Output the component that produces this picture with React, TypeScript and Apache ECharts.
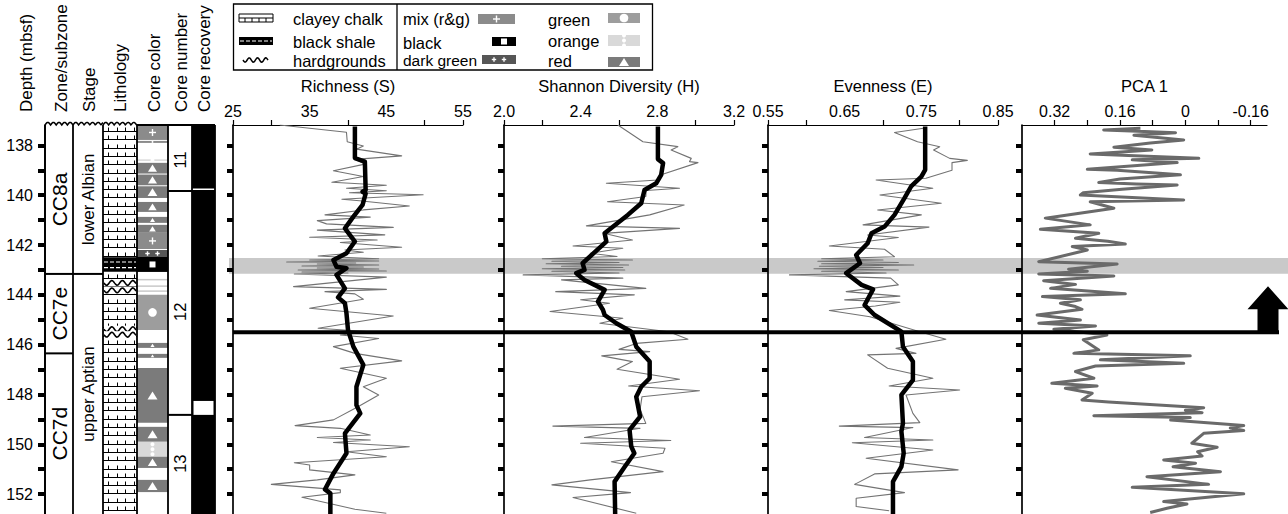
import React, { useEffect, useRef } from "react";
import * as echarts from "echarts";

const FONT = "'Liberation Sans', Arial, Helvetica, sans-serif";

// ---------- depth axis ----------
const DEPTH_TOP = 137.18;
const DEPTH_BOTTOM = 152.8;
const DEPTH_TICKS = [138, 139, 140, 141, 142, 143, 144, 145, 146, 147, 148, 149, 150, 151, 152];
const DEPTH_LABELS = [138, 140, 142, 144, 146, 148, 150, 152];

// ---------- panel axes ----------
const RICH_RANGE = [25, 55];
const RICH_TICKS = [25, 30, 40, 50, 55];
const RICH_LABELS = [25, 35, 45, 55];
const SHAN_RANGE = [2.0, 3.2];
const SHAN_TICKS = [2.0, 2.2, 2.6, 3.0, 3.2];
const SHAN_LABELS = [2.0, 2.4, 2.8, 3.2];
const EVEN_RANGE = [0.55, 0.85];
const EVEN_TICKS = [0.55, 0.6, 0.7, 0.8, 0.85];
const EVEN_LABELS = [0.55, 0.65, 0.75, 0.85];
const PCA_RANGE = [-0.2, 0.4];
const PCA_TICKS = [0.32, 0.24, 0.16, 0.08, 0, -0.08, -0.16];
const PCA_LABELS = [0.32, 0.16, 0, -0.16];

// ---------- data: [depth (mbsf), value] ----------
const RICHNESS_RAW = [
  [137.18, 31.1], [137.47, 39.8], [137.85, 39.9], [138.02, 42.0], [138.15, 41.1], [138.42, 47.0], [138.56, 40.9],
  [138.75, 42.2], [139.02, 38.1], [139.25, 42.0], [139.48, 37.9], [139.6, 45.0], [139.72, 39.8], [139.82, 45.0],
  [139.9, 40.2], [139.98, 49.8], [140.16, 39.2], [140.22, 41.5], [140.43, 48.0], [140.59, 42.0], [140.79, 37.0],
  [140.88, 42.9], [141.02, 36.0], [141.15, 37.2], [141.29, 45.9], [141.4, 36.0], [141.59, 44.8], [141.69, 35.0],
  [141.8, 43.8], [141.9, 39.0], [142.09, 47.0], [142.2, 39.6], [142.29, 42.0], [142.44, 36.1], [142.5, 40.0],
  [142.55, 44.0], [142.6, 35.0], [142.64, 44.0], [142.68, 32.0], [142.72, 41.0], [142.76, 36.0], [142.8, 44.0],
  [142.84, 34.0], [142.88, 42.0], [142.92, 36.0], [142.96, 44.0], [143.0, 33.5], [143.04, 45.0], [143.08, 34.0],
  [143.12, 40.0], [143.16, 33.0], [143.29, 45.0], [143.67, 32.9], [143.78, 45.0], [143.87, 37.0], [143.96, 40.9],
  [144.18, 42.0], [144.54, 35.0], [144.85, 45.9], [145.34, 36.1], [145.48, 42.9], [145.61, 39.0], [145.75, 44.0],
  [146.08, 38.1], [146.35, 40.9], [146.65, 47.0], [146.95, 39.0], [147.35, 45.0], [147.69, 42.0], [148.02, 44.0],
  [148.49, 41.3], [149.02, 38.1], [149.25, 33.1], [149.36, 39.0], [149.63, 42.9], [149.73, 36.0], [149.83, 42.9],
  [149.93, 38.1], [150.1, 48.0], [150.3, 39.8], [150.5, 45.0], [150.74, 33.0], [150.83, 35.0], [151.03, 35.0],
  [151.23, 40.9], [151.43, 36.0], [151.61, 30.0], [151.83, 39.0], [151.94, 39.0], [152.13, 34.0], [152.61, 40.9],
  [152.77, 45.0],
];
const RICHNESS_SMOOTH = [
  [137.24, 40.9], [138.51, 40.9], [138.65, 42.2], [139.79, 42.3], [139.86, 41.9], [139.94, 42.3], [140.39, 41.9],
  [140.86, 40.7], [141.33, 39.6], [141.86, 40.9], [142.33, 39.8], [142.6, 38.1], [142.87, 38.5], [142.93, 39.8],
  [143.2, 38.5], [143.74, 39.6], [144.1, 38.7], [144.34, 39.6], [144.74, 39.8], [145.41, 40.0], [146.08, 40.7],
  [146.81, 42.0], [147.69, 41.1], [148.43, 41.1], [148.76, 41.6], [149.56, 39.6], [150.36, 39.8], [151.17, 38.1],
  [151.81, 37.0], [151.97, 37.7], [152.8, 37.7],
];
const SHANNON_RAW = [
  [137.18, 2.594], [137.85, 2.725], [138.05, 2.907], [138.18, 2.872], [138.52, 2.977], [138.65, 2.968], [138.69, 3.012],
  [139.18, 2.82], [139.39, 2.803], [139.52, 2.534], [139.72, 2.916], [139.81, 2.742], [140.05, 2.74], [140.26, 2.54],
  [140.39, 2.94], [140.79, 2.76], [141.23, 2.43], [141.33, 2.916], [141.53, 2.52], [141.8, 2.67], [142.04, 2.36],
  [142.13, 2.62], [142.33, 2.45], [142.46, 2.59], [142.55, 2.2], [142.6, 2.67], [142.65, 2.25], [142.7, 2.6],
  [142.75, 2.22], [142.8, 2.65], [142.85, 2.3], [142.9, 2.62], [142.95, 2.2], [143.0, 2.63], [143.05, 2.25],
  [143.12, 2.6], [143.2, 2.1], [143.33, 2.62], [143.4, 2.3], [143.74, 2.74], [143.87, 2.27], [144.0, 2.68],
  [144.2, 2.4], [144.34, 2.55], [144.67, 2.24], [144.94, 2.62], [145.14, 2.5], [145.48, 2.86], [145.78, 2.96],
  [145.95, 2.69], [146.19, 2.6], [146.28, 2.76], [146.45, 2.51], [146.68, 2.67], [146.99, 2.59], [147.39, 2.916],
  [147.66, 2.65], [147.85, 3.02], [148.09, 2.72], [148.6, 2.71], [149.16, 2.74], [149.27, 2.255], [149.36, 2.71],
  [149.73, 2.42], [149.85, 2.87], [149.96, 2.4], [150.16, 2.84], [150.36, 2.83], [150.7, 2.56], [151.1, 2.83],
  [151.43, 2.45], [151.63, 2.25], [151.94, 2.66], [152.14, 2.36], [152.77, 2.69],
];
const SHANNON_SMOOTH = [
  [137.24, 2.803], [138.55, 2.803], [138.71, 2.83], [139.18, 2.82], [139.52, 2.794], [139.79, 2.733], [140.32, 2.716],
  [140.79, 2.646], [141.53, 2.525], [141.86, 2.534], [142.73, 2.41], [143.0, 2.42], [143.13, 2.377], [143.4, 2.42],
  [143.8, 2.525], [144.27, 2.49], [144.6, 2.516], [144.81, 2.525], [145.14, 2.586], [145.48, 2.664], [146.08, 2.69],
  [146.68, 2.76], [147.35, 2.76], [147.69, 2.716], [148.09, 2.69], [148.89, 2.71], [149.42, 2.655], [150.09, 2.664],
  [150.36, 2.68], [150.9, 2.63], [151.5, 2.577], [152.8, 2.58],
];
const EVENNESS_RAW = [
  [137.3, 0.755], [137.48, 0.715], [137.85, 0.745], [138.05, 0.774], [138.18, 0.766], [138.52, 0.787], [138.6, 0.81],
  [138.69, 0.79], [139.0, 0.79], [139.32, 0.756], [139.39, 0.691], [139.72, 0.765], [139.99, 0.696], [140.32, 0.776],
  [140.59, 0.693], [140.79, 0.75], [141.19, 0.674], [141.28, 0.76], [141.6, 0.68], [141.7, 0.72], [142.04, 0.63],
  [142.17, 0.702], [142.47, 0.715], [142.55, 0.62], [142.6, 0.7], [142.65, 0.615], [142.7, 0.72], [142.75, 0.62],
  [142.8, 0.74], [142.85, 0.617], [142.9, 0.7], [142.95, 0.61], [143.0, 0.72], [143.05, 0.62], [143.12, 0.704],
  [143.2, 0.578], [143.33, 0.71], [143.6, 0.72], [143.87, 0.652], [144.05, 0.722], [144.2, 0.65], [144.3, 0.722],
  [144.45, 0.69], [144.63, 0.63], [144.88, 0.683], [145.48, 0.748], [145.78, 0.782], [146.15, 0.717], [146.35, 0.743],
  [146.41, 0.68], [146.95, 0.706], [147.35, 0.765], [147.66, 0.708], [147.82, 0.8], [148.02, 0.73], [148.76, 0.739],
  [149.13, 0.748], [149.27, 0.643], [149.33, 0.739], [149.73, 0.676], [149.83, 0.765], [149.94, 0.66], [150.23, 0.765],
  [150.56, 0.678], [151.03, 0.798], [151.19, 0.689], [151.61, 0.663], [151.94, 0.728], [152.17, 0.665], [152.5, 0.665],
  [152.67, 0.708],
];
const EVENNESS_SMOOTH = [
  [137.24, 0.755], [138.98, 0.755], [139.25, 0.75], [139.63, 0.737], [140.12, 0.728], [140.79, 0.715], [141.26, 0.702],
  [141.53, 0.685], [141.93, 0.68], [142.4, 0.665], [142.73, 0.67], [143.13, 0.652], [143.6, 0.672], [143.78, 0.687],
  [144.41, 0.676], [144.81, 0.689], [145.48, 0.724], [146.08, 0.726], [146.68, 0.739], [147.42, 0.739], [148.02, 0.724],
  [149.16, 0.726], [149.49, 0.724], [150.36, 0.727], [150.9, 0.724], [151.5, 0.713], [152.8, 0.713],
];
const PCA1 = [
  [137.31, 0.11], [137.38, 0.2], [137.44, 0.1], [137.49, 0.024], [137.59, 0.126], [137.78, 0.004], [137.9, 0.086],
  [138.07, 0.175], [138.18, 0.082], [138.34, 0.233], [138.52, -0.033], [138.58, 0.13], [138.69, 0.02], [138.96, 0.24],
  [139.0, 0.167], [139.18, 0.012], [139.35, 0.16], [139.49, 0.212], [139.55, 0.12], [139.59, 0.02], [139.76, 0.155],
  [139.9, 0.25], [139.99, 0.257], [140.19, 0.004], [140.26, 0.233], [140.52, 0.175], [140.92, 0.343], [141.19, 0.233],
  [141.37, 0.355], [141.53, 0.212], [141.73, 0.269], [141.85, 0.19], [141.96, 0.147], [142.06, 0.277], [142.2, 0.24],
  [142.67, 0.359], [142.76, 0.167], [142.97, 0.286], [143.05, 0.24], [143.16, 0.359], [143.24, 0.175], [143.43, 0.347],
  [143.58, 0.269], [143.74, 0.33], [143.96, 0.147], [144.07, 0.35], [144.2, 0.257], [144.34, 0.306], [144.47, 0.269],
  [144.58, 0.253], [144.81, 0.363], [145.01, 0.257], [145.14, 0.359], [145.25, 0.22], [145.38, 0.322], [145.61, 0.192],
  [145.8, 0.25], [145.95, 0.236], [146.21, 0.212], [146.35, 0.273], [146.45, -0.012], [146.61, 0.208], [146.75, 0.004],
  [146.86, 0.22], [147.08, 0.269], [147.35, 0.224], [147.55, 0.327], [147.66, 0.216], [147.75, 0.294], [147.95, 0.228],
  [148.22, 0.253], [148.3, 0.188], [148.53, -0.045], [148.63, 0.0], [148.73, -0.041], [148.85, 0.224], [148.93, -0.012],
  [149.03, 0.036], [149.25, -0.143], [149.35, -0.11], [149.45, -0.143], [149.56, -0.045], [149.96, -0.016],
  [150.12, -0.078], [150.3, -0.03], [150.47, -0.041], [150.63, 0.053], [150.76, -0.025], [150.9, 0.03], [151.1, -0.086],
  [151.3, 0.094], [151.61, -0.057], [151.73, 0.13], [151.99, -0.143], [152.3, 0.053], [152.4, -0.004], [152.57, 0.045],
  [152.74, 0.086],
];

// ---------- overlays ----------
const BAND = [142.52, 143.15];
const BOUNDARY = 145.5;

// ---------- stratigraphic columns ----------
const ZONE_NAMES = ["CC8a", "CC7e", "CC7d"];
const ZONE_BASES = [143.16, 146.35, DEPTH_BOTTOM];
const STAGE_NAMES = ["lower Albian", "upper Aptian"];
const STAGE_BASES = [143.16, DEPTH_BOTTOM];
const CORE_NAMES = ["11", "12", "13"];
const CORE_BASES = [139.83, 148.82, DEPTH_BOTTOM];
const CORE_LABEL_DEPTHS = [138.58, 144.68, 150.78];
const RECOVERY_GAPS = [[139.73, 139.79], [148.26, 148.82]];
const LITHO_TOPS = [DEPTH_TOP, 142.49, 143.07];
const LITHO_BASES = [142.49, 143.07, DEPTH_BOTTOM];
const LITHO_TYPES = ["chalk", "shale", "chalk"];
const HARDGROUNDS = [143.52, 143.82, 145.38, 145.6];
const COLOR_TOPS = [137.18, 137.82, 138.56, 138.7, 139.17, 139.64, 140.27, 140.87, 141.19, 141.51, 142.2, 142.48, 143.36, 143.62, 143.82, 144.0, 145.93, 146.37, 146.94, 149.3, 149.9, 150.5, 151.43];
const COLOR_BASES = [137.78, 137.9, 138.62, 139.13, 139.6, 140.11, 140.67, 141.11, 141.51, 142.16, 142.48, 143.08, 143.42, 143.68, 143.88, 145.41, 146.13, 146.53, 149.14, 149.9, 150.5, 150.95, 151.92];
const COLOR_TYPES = ["mix", "mix", "orange", "red", "red", "red", "red", "red", "red", "mix", "dkgreen", "black", "line", "line", "line", "green", "red", "red", "red", "red", "orange", "red", "red"];

// ---------- layout constants (pixels / column units) ----------
const W = 1288;
const H = 514;
const PLOT_TOP = 125;
const COLS = { zone: [0, 28], stage: [28, 58], litho: [58, 92], color: [92, 123], num: [123, 147], rec: [147, 170] };
const FILLS: Record<string, string> = {
  mix: "#8b8b8b", red: "#7b7b7b", green: "#9d9d9d", orange: "#d9d9d9", dkgreen: "#565656", black: "#000000", line: "#c8c8c8",
};

function wave(x0: number, x1: number, y: number, period: number, amp: number, humps: boolean) {
  const pts: number[][] = [];
  const n = Math.max(8, Math.round(((x1 - x0) / period) * 10));
  for (let i = 0; i <= n; i++) {
    const x = x0 + ((x1 - x0) * i) / n;
    const ph = (Math.PI * 2 * (x - x0)) / period;
    pts.push([x, humps ? y - amp * Math.abs(Math.sin(ph / 2)) : y + amp * Math.sin(ph)]);
  }
  return pts;
}
const ln = (x1: number, y1: number, x2: number, y2: number, w = 1, c = "#000") => ({
  type: "line", shape: { x1, y1, x2, y2 }, style: { stroke: c, lineWidth: w },
});
const tx = (x: number, y: number, text: string, size: number, align = "left", rot = 0, z = 50) => ({
  type: "text", x, y, rotation: rot, z,
  style: { text, fontSize: size, fontFamily: FONT, fill: "#000", align, verticalAlign: "middle", textAlign: align, textVerticalAlign: "middle" },
});
const plus = (cx: number, cy: number, s: number, c = "#fff") => [ln(cx - s, cy, cx + s, cy, 1.4, c), ln(cx, cy - s, cx, cy + s, 1.4, c)];

function xAxisCfg(grid: number, range: number[], ticks: number[], labels: number[], name: string, fmt: (v: number) => string, inverse = false) {
  return {
    type: "value", gridIndex: grid, position: "top", min: range[0], max: range[1], inverse,
    name, nameLocation: "middle", nameGap: 31,
    nameTextStyle: { fontSize: 16.5, fontFamily: FONT, color: "#000" },
    axisLine: { show: true, onZero: false, lineStyle: { color: "#000", width: 1.2 } },
    axisTick: { show: true, inside: false, length: 5, customValues: ticks, lineStyle: { color: "#000", width: 1.2 } },
    axisLabel: { show: true, margin: 6, customValues: labels, formatter: fmt, fontSize: 16, fontFamily: FONT, color: "#000", hideOverlap: false },
    splitLine: { show: false },
  };
}
function yAxisCfg(grid: number, labels: boolean) {
  return {
    type: "value", gridIndex: grid, inverse: true, min: DEPTH_TOP, max: DEPTH_BOTTOM,
    axisLine: { show: true, onZero: false, lineStyle: { color: "#000", width: 1.7 } },
    axisTick: { show: true, inside: false, length: labels ? 7 : 6, customValues: DEPTH_TICKS, lineStyle: { color: "#000", width: 4 } },
    axisLabel: { show: labels, margin: 12, customValues: DEPTH_LABELS, fontSize: 16, fontFamily: FONT, color: "#000" },
    splitLine: { show: false },
  };
}
const lineSeries = (idx: number, data: number[][], color: string, width: number, z = 3) => ({
  type: "line", xAxisIndex: idx, yAxisIndex: idx, data: data.map((d) => [d[1], d[0]]), showSymbol: false, symbol: "none",
  lineStyle: { color, width, join: "round" }, z, silent: true,
});

function colorSymbol(type: string, cx: number, cy: number, h: number) {
  const out: any[] = [];
  if (type === "mix") out.push(...plus(cx, cy, Math.min(3.5, h * 0.35)));
  if (type === "dkgreen") out.push(...plus(cx - 5, cy, 2.2), ...plus(cx + 5, cy, 2.2));
  if (type === "red") {
    const s = Math.min(5, h * 0.42);
    out.push({ type: "polygon", shape: { points: [[cx - s, cy + s * 0.8], [cx + s, cy + s * 0.8], [cx, cy - s * 0.8]] }, style: { fill: "#fff" } });
  }
  if (type === "green") out.push({ type: "circle", shape: { cx, cy, r: 4.3 }, style: { fill: "#fff" } });
  if (type === "orange") [-5, 0, 5].forEach((d) => out.push({ type: "circle", shape: { cx, cy: cy + d, r: 2 }, style: { fill: "#fff" } }));
  if (type === "black") out.push({ type: "rect", shape: { x: cx - 3, y: cy - 3, width: 6, height: 6 }, style: { fill: "#fff" } });
  return out;
}

function chalkPattern(x0: number, x1: number, y0: number, y1: number) {
  const els: any[] = [];
  const step = 8.3;
  const offs = [5, 13.5, 22, 30.5];
  for (let y = y0 + 6; y < y1; y += step) {
    const yy = Math.round(y) + 0.5;
    els.push(ln(x0, yy, x1, yy, 1));
    offs.forEach((o) => {
      const xx = Math.round(x0 + o) + 0.5;
      els.push(ln(xx, yy, xx, Math.max(y0, yy - 4), 1));
    });
  }
  return els;
}

function buildOption() {
  const cust = (name: string, data: number[][], renderItem: any, z = 5) => ({
    type: "custom", name, xAxisIndex: 4, yAxisIndex: 4, data, renderItem, z, silent: true, clip: false,
  });
  const spans = (bases: number[]) => bases.map((b, i) => [i === 0 ? DEPTH_TOP : bases[i - 1], b]);

  const labelColumn = (col: number[], names: string[], size: number, wavyTop: boolean) => (params: any, api: any) => {
    const p0 = api.coord([col[0], api.value(0)]);
    const p1 = api.coord([col[1], api.value(1)]);
    const ch: any[] = [];
    if (params.dataIndex === 0 && wavyTop) {
      ch.push({ type: "polyline", shape: { points: wave(p0[0], p1[0], p0[1], 5.6, 2.6, true) }, style: { stroke: "#000", fill: "none", lineWidth: 1.5 } });
    }
    if (api.value(1) < DEPTH_BOTTOM) ch.push(ln(p0[0], p1[1], p1[0], p1[1], 2));
    const mid = (p0[1] + p1[1]) / 2;
    ch.push(tx((p0[0] + p1[0]) / 2, mid, names[params.dataIndex], size, "center", Math.PI / 2));
    return { type: "group", children: ch };
  };

  const series: any[] = [
    lineSeries(0, RICHNESS_RAW, "#737373", 1.1),
    lineSeries(0, RICHNESS_SMOOTH, "#000", 4.5, 4),
    lineSeries(1, SHANNON_RAW, "#737373", 1.1),
    lineSeries(1, SHANNON_SMOOTH, "#000", 4.5, 4),
    lineSeries(2, EVENNESS_RAW, "#737373", 1.1),
    lineSeries(2, EVENNESS_SMOOTH, "#000", 4.5, 4),
    lineSeries(3, PCA1, "#6a6a6a", 3),
    // core colour fills
    cust("color", COLOR_TOPS.map((t, i) => [t, COLOR_BASES[i]]), (params: any, api: any) => {
      const p0 = api.coord([COLS.color[0], api.value(0)]);
      const p1 = api.coord([COLS.color[1], api.value(1)]);
      const type = COLOR_TYPES[params.dataIndex];
      const h = p1[1] - p0[1];
      const ch: any[] = [{ type: "rect", shape: { x: p0[0], y: p0[1], width: p1[0] - p0[0], height: h }, style: { fill: FILLS[type] } }];
      ch.push(...colorSymbol(type, (p0[0] + p1[0]) / 2, (p0[1] + p1[1]) / 2, h));
      return { type: "group", children: ch };
    }),
    // lithology
    cust("litho", LITHO_TOPS.map((t, i) => [t, LITHO_BASES[i]]), (params: any, api: any) => {
      const p0 = api.coord([COLS.litho[0], api.value(0)]);
      const p1 = api.coord([COLS.litho[1], api.value(1)]);
      const type = LITHO_TYPES[params.dataIndex];
      const ch: any[] = [];
      if (type === "shale") {
        ch.push({ type: "rect", shape: { x: p0[0], y: p0[1], width: p1[0] - p0[0], height: p1[1] - p0[1] }, style: { fill: "#000" } });
        [0.33, 0.72].forEach((f) => {
          const y = p0[1] + (p1[1] - p0[1]) * f;
          ch.push({ type: "line", shape: { x1: p0[0] + 1, y1: y, x2: p1[0] - 1, y2: y }, style: { stroke: "#fff", lineWidth: 1.2, lineDash: [4, 2] } });
        });
      } else {
        ch.push(...chalkPattern(p0[0], p1[0], p0[1], p1[1]));
      }
      return { type: "group", children: ch };
    }),
    // hardgrounds in lithology
    cust("hardgrounds", HARDGROUNDS.map((d) => [d, d]), (params: any, api: any) => {
      const p0 = api.coord([COLS.litho[0], api.value(0)]);
      const p1 = api.coord([COLS.litho[1], api.value(0)]);
      return {
        type: "group", children: [
          { type: "rect", shape: { x: p0[0] + 1, y: p0[1] - 3.5, width: p1[0] - p0[0] - 2, height: 7 }, style: { fill: "#fff" } },
          { type: "polyline", shape: { points: wave(p0[0] + 1, p1[0] - 1, p0[1], 10.5, 2.4, false) }, style: { stroke: "#000", fill: "none", lineWidth: 1.6 } },
        ],
      };
    }, 6),
    // zones, stages
    cust("zones", spans(ZONE_BASES), labelColumn(COLS.zone, ZONE_NAMES, 21, true)),
    cust("stages", spans(STAGE_BASES), labelColumn(COLS.stage, STAGE_NAMES, 17, true)),
    // core numbers
    cust("cores", spans(CORE_BASES), (params: any, api: any) => {
      const p0 = api.coord([COLS.num[0], api.value(0)]);
      const p1 = api.coord([COLS.num[1], api.value(1)]);
      const ch: any[] = [];
      if (params.dataIndex === 0) ch.push(ln(p0[0], p0[1], p1[0], p0[1], 2));
      if (api.value(1) < DEPTH_BOTTOM) ch.push(ln(p0[0], p1[1], p1[0], p1[1], 2));
      const ly = api.coord([0, CORE_LABEL_DEPTHS[params.dataIndex]])[1];
      ch.push(tx((p0[0] + p1[0]) / 2, ly, CORE_NAMES[params.dataIndex], 16.5, "center", Math.PI / 2));
      return { type: "group", children: ch };
    }),
    // recovery
    cust("recovery", [[DEPTH_TOP, DEPTH_BOTTOM]], (params: any, api: any) => {
      const p0 = api.coord([COLS.rec[0], api.value(0)]);
      const p1 = api.coord([COLS.rec[1], api.value(1)]);
      return { type: "rect", shape: { x: p0[0], y: p0[1], width: p1[0] - p0[0], height: p1[1] - p0[1] }, style: { fill: "#000" } };
    }),
    cust("recoveryGaps", RECOVERY_GAPS, (params: any, api: any) => {
      const p0 = api.coord([COLS.rec[0], api.value(0)]);
      const p1 = api.coord([COLS.rec[1], api.value(1)]);
      const big = p1[1] - p0[1] > 4;
      const inset = big ? 1.5 : 0;
      return { type: "rect", shape: { x: p0[0] + inset, y: p0[1], width: p1[0] - p0[0] - 2 * inset, height: p1[1] - p0[1] }, style: { fill: "#fff" } };
    }, 6),
    // column frames
    cust("frames", [[DEPTH_TOP, DEPTH_BOTTOM]], (params: any, api: any) => {
      const xs = [COLS.zone[0], COLS.stage[0], COLS.litho[0], COLS.color[0], COLS.num[0], COLS.rec[0], COLS.rec[1]];
      const ch: any[] = [];
      const yTop = api.coord([0, api.value(0)])[1];
      const yBot = api.coord([0, api.value(1)])[1];
      xs.forEach((x) => {
        const px = api.coord([x, DEPTH_TOP])[0];
        ch.push(ln(px, yTop, px, yBot, 1.8));
      });
      const lx0 = api.coord([COLS.litho[0], 0])[0];
      const lx1 = api.coord([COLS.litho[1], 0])[0];
      const cx0 = api.coord([COLS.color[0], 0])[0];
      const rx1 = api.coord([COLS.rec[1], 0])[0];
      ch.push({ type: "polyline", shape: { points: wave(lx0, lx1, yTop, 5.6, 2.6, true) }, style: { stroke: "#000", fill: "none", lineWidth: 1.5 } });
      ch.push(ln(cx0, yTop, rx1, yTop, 1.8));
      return { type: "group", children: ch };
    }, 8),
  ];

  return {
    animation: false,
    backgroundColor: "#fff",
    grid: [
      { left: 233, top: PLOT_TOP, width: 230, bottom: 0 },
      { left: 504, top: PLOT_TOP, width: 230, bottom: 0 },
      { left: 768, top: PLOT_TOP, width: 230, bottom: 0 },
      { left: 1022, top: PLOT_TOP, width: 245, bottom: 0 },
      { left: 45, top: PLOT_TOP, width: 170, bottom: 0 },
    ],
    xAxis: [
      xAxisCfg(0, RICH_RANGE, RICH_TICKS, RICH_LABELS, "Richness (S)", (v) => String(v)),
      xAxisCfg(1, SHAN_RANGE, SHAN_TICKS, SHAN_LABELS, "Shannon Diversity (H)", (v) => v.toFixed(1)),
      xAxisCfg(2, EVEN_RANGE, EVEN_TICKS, EVEN_LABELS, "Evenness (E)", (v) => v.toFixed(2)),
      xAxisCfg(3, PCA_RANGE, PCA_TICKS, PCA_LABELS, "PCA 1", (v) => String(+v.toFixed(2)), true),
      { type: "value", gridIndex: 4, min: 0, max: 170, show: false },
    ],
    yAxis: [yAxisCfg(0, false), yAxisCfg(1, false), yAxisCfg(2, false), yAxisCfg(3, false), yAxisCfg(4, true)],
    series,
  };
}

function staticGraphics() {
  const g: any[] = [];
  // column headers
  const heads: [string, number][] = [
    ["Depth (mbsf)", 26.5], ["Zone/subzone", 61], ["Stage", 89], ["Lithology", 120], ["Core color", 154], ["Core number", 181.5], ["Core recovery", 204.5],
  ];
  heads.forEach(([t, x]) => g.push(tx(x, 112, t, 17, "left", Math.PI / 2)));
  // legend box
  g.push({ type: "rect", shape: { x: 233.5, y: 4, width: 419, height: 66 }, style: { fill: "none", stroke: "#000", lineWidth: 1.3 }, z: 50 });
  g.push({ ...ln(397, 4, 397, 70, 1.3), z: 50 });
  // chalk icon
  g.push({ type: "rect", shape: { x: 239, y: 14, width: 34, height: 8 }, style: { fill: "#fff", stroke: "#000", lineWidth: 1 }, z: 50 });
  [245, 252, 259, 266].forEach((x) => g.push({ ...ln(x, 18, x, 22, 1), z: 50 }));
  g.push({ ...ln(239, 18, 273, 18, 1), z: 50 });
  // shale icon
  g.push({ type: "rect", shape: { x: 239, y: 37, width: 34, height: 8 }, style: { fill: "#000" }, z: 50 });
  g.push({ type: "line", shape: { x1: 240, y1: 41, x2: 272, y2: 41 }, style: { stroke: "#fff", lineWidth: 1.2, lineDash: [4, 2] }, z: 51 });
  // hardground icon
  g.push({ type: "polyline", shape: { points: wave(243, 268, 60, 8.3, 2.2, false) }, style: { stroke: "#000", fill: "none", lineWidth: 1.5 }, z: 50 });
  g.push(tx(293, 19, "clayey chalk", 16.5), tx(293, 41.5, "black shale", 16.5), tx(293, 60.5, "hardgrounds", 16.5));
  g.push(tx(403, 19, "mix (r&g)", 16.5), tx(403, 42.5, "black", 16.5), tx(403, 60.5, "dark green", 15.5));
  g.push(tx(548, 19.5, "green", 16.5), tx(548, 40.5, "orange", 16.5), tx(548, 60.5, "red", 16.5));
  // colour icons
  const icon = (x: number, y: number, w: number, h: number, type: string) => {
    g.push({ type: "rect", shape: { x, y, width: w, height: h }, style: { fill: FILLS[type] }, z: 50 });
    colorSymbol(type, x + w / 2, y + h / 2, h + 3).forEach((e) => g.push({ ...e, z: 51 }));
  };
  icon(478, 14, 37, 10, "mix");
  icon(492, 37, 24, 9, "black");
  icon(482, 55, 34, 9, "dkgreen");
  icon(608, 13, 32, 10, "green");
  icon(608, 35, 32, 11, "orange");
  icon(608, 57, 32, 10, "red");
  return g;
}

export default function App() {
  const ref = useRef<HTMLDivElement>(null);
  useEffect(() => {
    if (!ref.current) return;
    const chart = echarts.init(ref.current, null, { renderer: "svg" });
    chart.setOption(buildOption() as any);
    const px = (grid: number, x: number, d: number) => chart.convertToPixel({ gridIndex: grid } as any, [x, d]) as number[];
    const b0 = px(0, RICH_RANGE[0], BAND[0]);
    const b1 = px(0, RICH_RANGE[0], BAND[1]);
    const bl = px(0, RICH_RANGE[0], BOUNDARY);
    const pcaEnd = px(3, PCA_RANGE[0], BOUNDARY);
    const ly = bl[1];
    const ax = pcaEnd[0] + 1;
    const overlay: any[] = [
      { type: "rect", shape: { x: b0[0] - 4, y: b0[1], width: W - b0[0] + 4, height: b1[1] - b0[1] }, style: { fill: "#c9c9c9" }, z: -1 },
      { type: "line", shape: { x1: bl[0], y1: ly, x2: ax + 11, y2: ly }, style: { stroke: "#000", lineWidth: 4 }, z: 60 },
      {
        type: "polygon", z: 60,
        shape: { points: [[ax - 10.5, ly], [ax - 10.5, ly - 23], [ax - 20.5, ly - 23], [ax, ly - 46], [ax + 20.5, ly - 23], [ax + 10.5, ly - 23], [ax + 10.5, ly]] },
        style: { fill: "#000" },
      },
    ];
    chart.setOption({ graphic: [...staticGraphics(), ...overlay] } as any);
    return () => chart.dispose();
  }, []);
  return <div ref={ref} style={{ position: "absolute", left: 0, top: 0, width: W, height: H, background: "#fff", overflow: "hidden" }} />;
}
